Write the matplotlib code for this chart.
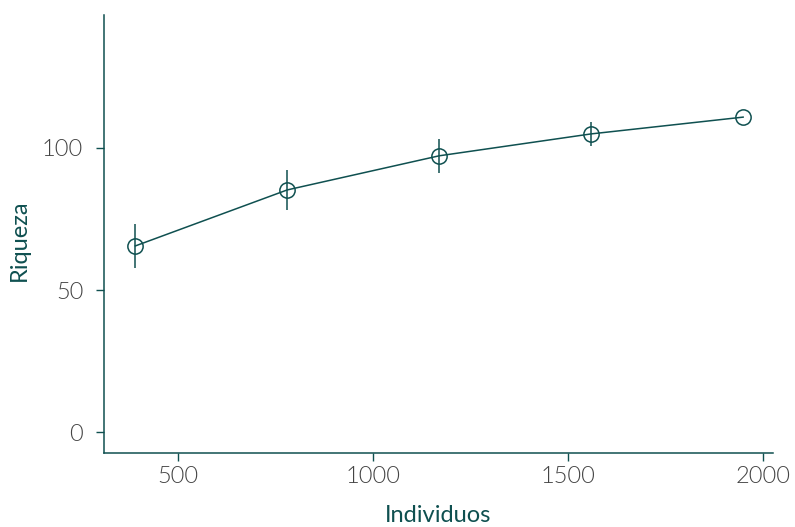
import matplotlib
matplotlib.use('Agg')
import matplotlib.pyplot as plt

individuos = [390, 780, 1170, 1560, 1950]
riqueza = [65.5, 85.2, 97.2, 104.9, 110.8]
error = [7.7, 6.9, 6.0, 4.2, 0.0]
x_ticks = [500, 1000, 1500, 2000]
y_ticks = [0, 50, 100]

teal = '#0f5050'
grey = '#444444'

plt.rcParams['font.family'] = ['Lato', 'DejaVu Sans']

fig = plt.figure(figsize=(7.95, 5.27), dpi=100)
ax = fig.add_axes([0.131, 0.140, 0.841, 0.832])

ax.errorbar(individuos, riqueza, yerr=error, color=teal, linewidth=1.1,
            elinewidth=1.1, capsize=0, marker='o', markersize=11,
            markerfacecolor='none', markeredgecolor=teal, markeredgewidth=1.1)

ax.set_xlim(310, 2026)
ax.set_ylim(-7.4, 146.8)
ax.set_xticks(x_ticks)
ax.set_yticks(y_ticks)

for side in ['top', 'right']:
    ax.spines[side].set_visible(False)
for side in ['left', 'bottom']:
    ax.spines[side].set_color(teal)
    ax.spines[side].set_linewidth(1.1)

ax.tick_params(colors=teal, length=6, width=1, labelcolor=grey, labelsize=17)
ax.tick_params(axis='x', pad=3)
ax.tick_params(axis='y', pad=9)
for lab in ax.get_xticklabels() + ax.get_yticklabels():
    lab.set_fontweight(300)

ax.set_xlabel('Individuos', color=teal, fontsize=17, labelpad=13)
ax.set_ylabel('Riqueza', color=teal, fontsize=17)
ax.yaxis.set_label_coords(-0.111, 0.486)

fig.savefig('out.png', dpi=100)
